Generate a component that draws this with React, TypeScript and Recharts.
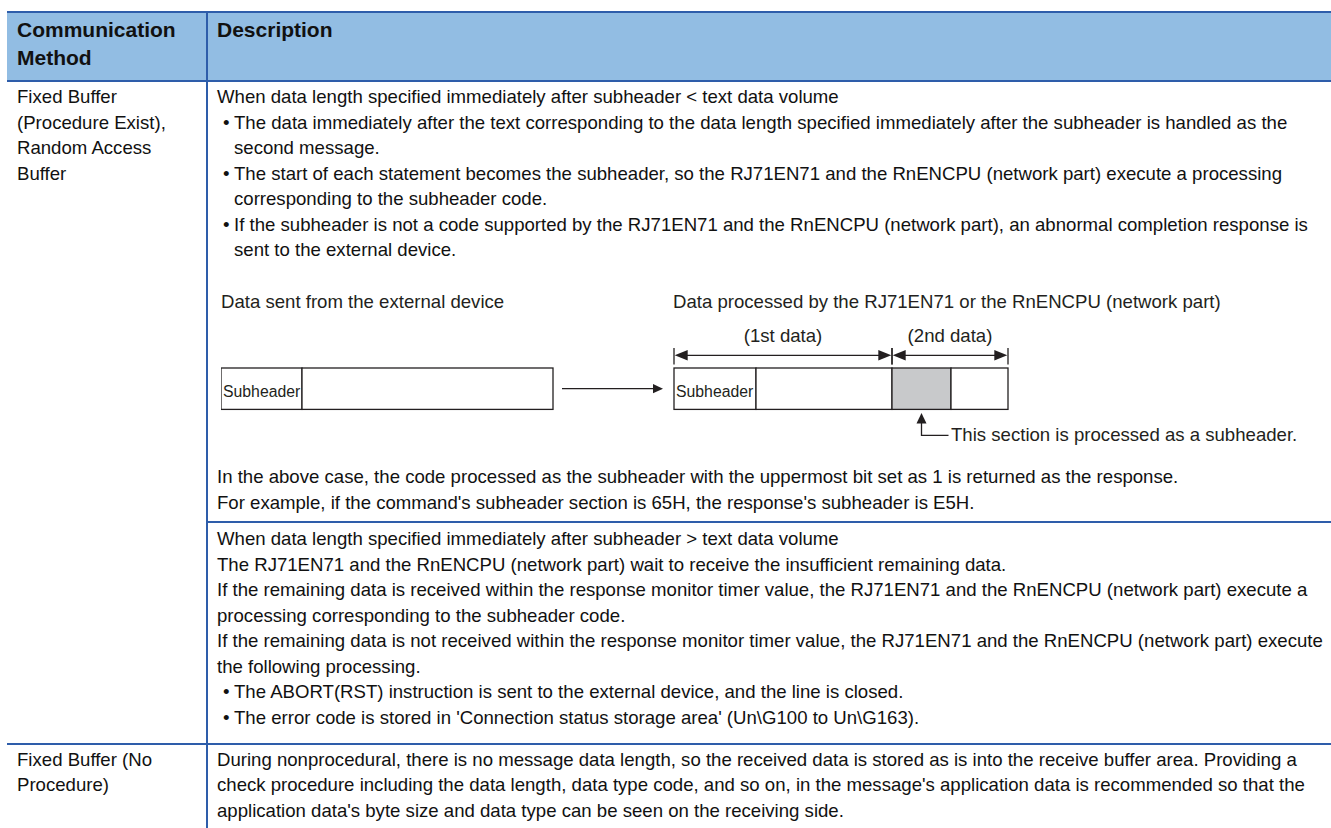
import { Bar, BarChart, XAxis, YAxis } from "recharts";

const FONT = '"Liberation Sans", Arial, Helvetica, sans-serif';
const BORDER = "#2E5DAA";
const HEADER_FILL = "#92BDE3";
const TEXT = "#111111";
const INK = "#231F20";
const SHADE = "#C8C9CB";

type Line = { text: string; kind?: "bullet" | "cont" };

const headerMethod = ["Communication", "Method"];
const headerDescription = ["Description"];

const methodWithProcedure = ["Fixed Buffer", "(Procedure Exist),", "Random Access", "Buffer"];
const methodNoProcedure = ["Fixed Buffer (No", "Procedure)"];

const shortDataLines: Line[] = [
  { text: "When data length specified immediately after subheader < text data volume" },
  { text: "The data immediately after the text corresponding to the data length specified immediately after the subheader is handled as the", kind: "bullet" },
  { text: "second message.", kind: "cont" },
  { text: "The start of each statement becomes the subheader, so the RJ71EN71 and the RnENCPU (network part) execute a processing", kind: "bullet" },
  { text: "corresponding to the subheader code.", kind: "cont" },
  { text: "If the subheader is not a code supported by the RJ71EN71 and the RnENCPU (network part), an abnormal completion response is", kind: "bullet" },
  { text: "sent to the external device.", kind: "cont" }
];

const shortDataNotes: Line[] = [
  { text: "In the above case, the code processed as the subheader with the uppermost bit set as 1 is returned as the response." },
  { text: "For example, if the command's subheader section is 65H, the response's subheader is E5H." }
];

const longDataLines: Line[] = [
  { text: "When data length specified immediately after subheader > text data volume" },
  { text: "The RJ71EN71 and the RnENCPU (network part) wait to receive the insufficient remaining data." },
  { text: "If the remaining data is received within the response monitor timer value, the RJ71EN71 and the RnENCPU (network part) execute a" },
  { text: "processing corresponding to the subheader code." },
  { text: "If the remaining data is not received within the response monitor timer value, the RJ71EN71 and the RnENCPU (network part) execute" },
  { text: "the following processing." },
  { text: "The ABORT(RST) instruction is sent to the external device, and the line is closed.", kind: "bullet" },
  { text: "The error code is stored in 'Connection status storage area' (Un\\G100 to Un\\G163).", kind: "bullet" }
];

const noProcedureLines: Line[] = [
  { text: "During nonprocedural, there is no message data length, so the received data is stored as is into the receive buffer area. Providing a" },
  { text: "check procedure including the data length, data type code, and so on, in the message's application data is recommended so that the" },
  { text: "application data's byte size and data type can be seen on the receiving side." }
];

const diagramCaptions = [
  "Data sent from the external device",
  "Data processed by the RJ71EN71 or the RnENCPU (network part)"
];

// frame segments, left to right: sent message, gap with arrow, processed message
const frameKeys = ["sentHeader", "sentBody", "gap", "recvHeader", "recvFirst", "recvNextHeader", "recvRest"];
const frameSizes = [81, 251, 121, 82, 136, 59, 57];
const frameNames = ["Subheader", "", "", "Subheader", "", "", ""];
const spanLabels = ["(1st data)", "(2nd data)"];
const spanStart = [3, 5];
const spanEnd = [4, 6];
const pointerNote = "This section is processed as a subheader.";

const GAP_INDEX = 2;
const SHADED_INDEX = 5;

const frameRow = [
  frameKeys.reduce<Record<string, number | string>>(
    (row, key, i) => {
      row[key] = frameSizes[i];
      return row;
    },
    { name: "frame" }
  )
];
const frameTotal = frameSizes.reduce((a, b) => a + b, 0);

const BODY_SIZE = 18.6;
const STEP = 25.5;

function baselineOffset(size: number, lineHeight: number) {
  return (lineHeight - 1.117 * size) / 2 + 0.905 * size;
}

interface TextLinesProps {
  lines: Line[];
  left: number;
  baseline: number;
  size?: number;
  step?: number;
  bold?: boolean;
}

function TextLines({ lines, left, baseline, size = BODY_SIZE, step = STEP, bold = false }: TextLinesProps) {
  const off = baselineOffset(size, step);
  return (
    <>
      {lines.map((line, i) => {
        const top = baseline + i * step - off;
        const style = {
          position: "absolute" as const,
          top,
          height: step,
          lineHeight: `${step}px`,
          fontSize: size,
          fontWeight: bold ? 700 : 400,
          whiteSpace: "nowrap" as const,
          color: TEXT
        };
        if (line.kind === "bullet") {
          return (
            <div key={i}>
              <div style={{ ...style, left: left + 6 }}>•</div>
              <div style={{ ...style, left: left + 17 }}>{line.text}</div>
            </div>
          );
        }
        return (
          <div key={i} style={{ ...style, left: line.kind === "cont" ? left + 17 : left }}>
            {line.text}
          </div>
        );
      })}
    </>
  );
}

const plain = (items: string[]): Line[] => items.map((text) => ({ text }));

function arrowHead(tipX: number, tipY: number, dir: "left" | "right" | "up", len: number, half: number) {
  if (dir === "right") return `${tipX},${tipY} ${tipX - len},${tipY - half} ${tipX - len},${tipY + half}`;
  if (dir === "left") return `${tipX},${tipY} ${tipX + len},${tipY - half} ${tipX + len},${tipY + half}`;
  return `${tipX},${tipY} ${tipX - half},${tipY + len} ${tipX + half},${tipY + len}`;
}

function segmentShape(index: number) {
  return (props: any) => {
    const { x, y, width, height } = props;
    const ppu = width / frameSizes[index];

    if (index === GAP_INDEX) {
      const cy = y + height / 2;
      const tip = x + width - 11;
      return (
        <g>
          <line x1={x + 9} y1={cy} x2={tip - 8} y2={cy} stroke={INK} strokeWidth={1.3} />
          <polygon points={arrowHead(tip, cy, "right", 10, 4.6)} fill={INK} />
        </g>
      );
    }

    const spanIdx = spanStart.indexOf(index);
    let span = null;
    if (spanIdx >= 0) {
      let units = 0;
      for (let k = spanStart[spanIdx]; k <= spanEnd[spanIdx]; k++) units += frameSizes[k];
      const x2 = x + units * ppu;
      const dy = y - 12.7;
      span = (
        <g>
          <line x1={x} y1={y - 20} x2={x} y2={y - 3.5} stroke={INK} strokeWidth={1.3} />
          <line x1={x2} y1={y - 20} x2={x2} y2={y - 3.5} stroke={INK} strokeWidth={1.3} />
          <line x1={x + 6} y1={dy} x2={x2 - 6} y2={dy} stroke={INK} strokeWidth={1.3} />
          <polygon points={arrowHead(x + 0.7, dy, "left", 13, 5.3)} fill={INK} />
          <polygon points={arrowHead(x2 - 0.7, dy, "right", 13, 5.3)} fill={INK} />
          <text
            x={(x + x2) / 2}
            y={y - 26}
            textAnchor="middle"
            fontFamily={FONT}
            fontSize={BODY_SIZE}
            fill={INK}
          >
            {spanLabels[spanIdx]}
          </text>
        </g>
      );
    }

    let pointer = null;
    if (index === SHADED_INDEX) {
      const cx = x + width / 2;
      const bottom = y + height;
      pointer = (
        <g>
          <polygon points={arrowHead(cx, bottom + 3.5, "up", 10.5, 5)} fill={INK} />
          <polyline
            points={`${cx},${bottom + 13} ${cx},${bottom + 26} ${cx + 27},${bottom + 26}`}
            fill="none"
            stroke={INK}
            strokeWidth={1.3}
          />
          <text x={cx + 29.5} y={bottom + 32} fontFamily={FONT} fontSize={BODY_SIZE} fill={INK}>
            {pointerNote}
          </text>
        </g>
      );
    }

    return (
      <g>
        <rect
          x={x}
          y={y}
          width={width}
          height={height}
          fill={index === SHADED_INDEX ? SHADE : "#FFFFFF"}
          stroke={INK}
          strokeWidth={1.3}
        />
        {frameNames[index] ? (
          <text x={x + 2} y={y + 29} fontFamily={FONT} fontSize={15.8} fill={INK}>
            {frameNames[index]}
          </text>
        ) : null}
        {span}
        {pointer}
      </g>
    );
  };
}

function FrameDiagram() {
  return (
    <div style={{ position: "absolute", left: 221, top: 318 }}>
      <BarChart
        width={1110}
        height={140}
        data={frameRow}
        layout="vertical"
        barCategoryGap={0}
        margin={{ top: 48, right: 323, bottom: 46, left: 0 }}
      >
        <XAxis type="number" domain={[0, frameTotal]} hide />
        <YAxis type="category" dataKey="name" hide />
        {frameKeys.map((key, i) => (
          <Bar
            key={key}
            dataKey={key}
            stackId="frame"
            barSize={46}
            isAnimationActive={false}
            shape={segmentShape(i)}
          />
        ))}
      </BarChart>
    </div>
  );
}

export default function App() {
  return (
    <div
      style={{
        position: "absolute",
        left: 0,
        top: 0,
        width: 1331,
        height: 828,
        background: "#FFFFFF",
        overflow: "hidden",
        fontFamily: FONT
      }}
    >
      {/* header band and rules */}
      <div style={{ position: "absolute", left: 7, top: 11, width: 1324, height: 71, background: HEADER_FILL }} />
      <div style={{ position: "absolute", left: 7, top: 11, width: 1324, height: 2, background: BORDER }} />
      <div style={{ position: "absolute", left: 7, top: 80, width: 1324, height: 2, background: BORDER }} />
      <div style={{ position: "absolute", left: 206, top: 13, width: 2, height: 815, background: BORDER }} />
      <div style={{ position: "absolute", left: 208, top: 521, width: 1123, height: 2, background: BORDER }} />
      <div style={{ position: "absolute", left: 7, top: 743, width: 1324, height: 2, background: BORDER }} />

      <TextLines lines={plain(headerMethod)} left={17} baseline={37.3} size={21} step={28.6} bold />
      <TextLines lines={plain(headerDescription)} left={217} baseline={37.3} size={21} step={28.6} bold />

      <TextLines lines={plain(methodWithProcedure)} left={17} baseline={103.3} />
      <TextLines lines={shortDataLines} left={217} baseline={103.3} />

      <div
        style={{
          position: "absolute",
          left: 221,
          top: 308 - baselineOffset(BODY_SIZE, STEP),
          lineHeight: `${STEP}px`,
          fontSize: BODY_SIZE,
          color: INK,
          whiteSpace: "nowrap"
        }}
      >
        {diagramCaptions[0]}
      </div>
      <div
        style={{
          position: "absolute",
          left: 673,
          top: 308 - baselineOffset(BODY_SIZE, STEP),
          lineHeight: `${STEP}px`,
          fontSize: BODY_SIZE,
          color: INK,
          whiteSpace: "nowrap"
        }}
      >
        {diagramCaptions[1]}
      </div>
      <FrameDiagram />

      <TextLines lines={shortDataNotes} left={217} baseline={483.3} />
      <TextLines lines={longDataLines} left={217} baseline={545.5} />

      <TextLines lines={plain(methodNoProcedure)} left={17} baseline={766} />
      <TextLines lines={noProcedureLines} left={217} baseline={766} />
    </div>
  );
}
